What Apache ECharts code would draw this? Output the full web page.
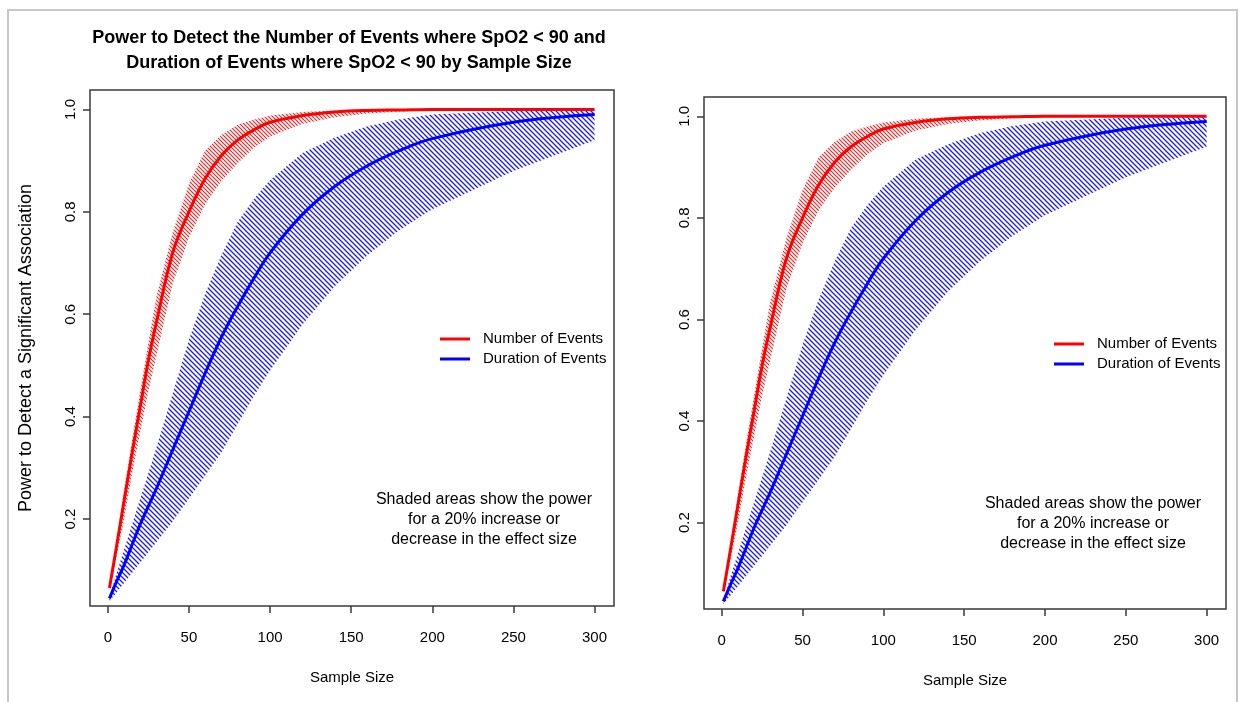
<!DOCTYPE html>
<html>
<head>
<meta charset="utf-8">
<title>Power to Detect by Sample Size</title>
<script src="https://cdn.jsdelivr.net/npm/echarts@6/dist/echarts.min.js"></script>
<style>
  html, body { margin: 0; padding: 0; background: #fff; }
  #chart { width: 1244px; height: 702px; }
</style>
</head>
<body>
<div id="chart"></div>
<script>
// sample sizes the curves were read at
var sampleSize = [1, 5, 10, 15, 20, 25, 30, 40, 50, 60, 70, 80, 90, 100, 120, 140, 160, 180, 200, 250, 300]

// Number of Events (red): power, and +/-20% effect size band
var eventsPower = [0.065, 0.14, 0.235, 0.33, 0.42, 0.51, 0.585, 0.72, 0.80, 0.865, 0.91, 0.94, 0.96, 0.975, 0.988, 0.995, 0.998, 0.999, 1, 1, 1]
var eventsUpper = [0.065, 0.15, 0.255, 0.355, 0.45, 0.545, 0.635, 0.76, 0.855, 0.92, 0.95, 0.97, 0.98, 0.988, 0.995, 0.998, 0.999, 1, 1, 1, 1]
var eventsLower = [0.06, 0.12, 0.2, 0.29, 0.37, 0.45, 0.52, 0.66, 0.75, 0.815, 0.86, 0.895, 0.925, 0.947, 0.972, 0.985, 0.992, 0.996, 0.998, 1, 1]

// Duration of Events (blue)
var durationPower = [0.045, 0.075, 0.11, 0.15, 0.19, 0.225, 0.26, 0.335, 0.41, 0.485, 0.555, 0.615, 0.67, 0.72, 0.795, 0.85, 0.89, 0.92, 0.943, 0.975, 0.99]
var durationUpper = [0.045, 0.09, 0.14, 0.19, 0.24, 0.29, 0.34, 0.445, 0.55, 0.64, 0.715, 0.78, 0.825, 0.862, 0.915, 0.945, 0.967, 0.981, 0.99, 0.997, 0.999]
var durationLower = [0.04, 0.055, 0.075, 0.095, 0.115, 0.135, 0.155, 0.195, 0.24, 0.285, 0.33, 0.385, 0.44, 0.49, 0.58, 0.655, 0.715, 0.765, 0.805, 0.88, 0.94]

var xTicks = [0, 50, 100, 150, 200, 250, 300]
var yTicks = [0.2, 0.4, 0.6, 0.8, 1.0]

var titleText = 'Power to Detect the Number of Events where SpO2 < 90 and\nDuration of Events where SpO2 < 90 by Sample Size'
var noteText = 'Shaded areas show the power\nfor a 20% increase or\ndecrease in the effect size'
var font = "'Liberation Sans', Arial, sans-serif"

// the two panels are the same plot drawn twice
var panels = [
  { left: 90, top: 90, width: 524, height: 516, yName: 'Power to Detect a Significant Association', legend: [435, 325], note: [484, 490] },
  { left: 704, top: 97, width: 522, height: 512, yName: '', legend: [1049, 330], note: [1093, 494] }
]

// diagonal hatching like R's polygon(density=...)
function hatch(color, step, width) {
  var c = document.createElement('canvas')
  c.width = step
  c.height = step
  var ctx = c.getContext('2d')
  ctx.strokeStyle = color
  ctx.lineWidth = width
  ctx.beginPath()
  ctx.moveTo(-1, -1)
  ctx.lineTo(step + 1, step + 1)
  ctx.moveTo(-step - 1, -1)
  ctx.lineTo(1, step + 1)
  ctx.moveTo(step - 1, -1)
  ctx.lineTo(2 * step + 1, step + 1)
  ctx.stroke()
  return c
}

function pairs(ys) {
  return sampleSize.map(function (n, i) { return [n, ys[i]] })
}

var redHatch = { image: hatch('#ff2020', 4, 1.2), repeat: 'repeat' }
var blueHatch = { image: hatch('#1a1aff', 5, 1.3), repeat: 'repeat' }

// shaded band between lower and upper, drawn as one polygon
function band(gi, key, lower, upper, pattern) {
  return {
    name: key + 'Band' + gi,
    type: 'custom',
    xAxisIndex: gi,
    yAxisIndex: gi,
    data: sampleSize.map(function (n, i) { return [n, lower[i], upper[i]] }),
    silent: true,
    clip: true,
    z: 1,
    renderItem: function (params, api) {
      if (params.dataIndexInside !== 0) return null
      var top = [], bottom = []
      for (var i = 0; i < sampleSize.length; i++) {
        top.push(api.coord([sampleSize[i], upper[i]]))
        bottom.push(api.coord([sampleSize[i], lower[i]]))
      }
      return {
        type: 'polygon',
        shape: { points: top.concat(bottom.reverse()) },
        style: { fill: pattern, stroke: null }
      }
    }
  }
}

function mainLine(gi, name, ys, color) {
  return {
    name: name,
    type: 'line',
    xAxisIndex: gi,
    yAxisIndex: gi,
    data: pairs(ys),
    symbol: 'none',
    smooth: 0.4,
    itemStyle: { color: color },
    lineStyle: { color: color, width: 3 },
    z: 3
  }
}

var grid = [], xAxis = [], yAxis = [], legend = [], series = [], graphic = []

panels.forEach(function (p, gi) {
  grid.push({
    left: p.left, top: p.top, width: p.width, height: p.height,
    show: true, borderColor: '#3a3a3a', borderWidth: 1.5,
    outerBoundsMode: 'none'
  })
  xAxis.push({
    type: 'value', gridIndex: gi, min: -11, max: 312,
    name: 'Sample Size', nameLocation: 'middle', nameGap: 64,
    nameTextStyle: { fontSize: 15, color: '#000', fontFamily: font },
    axisLine: { show: false, onZero: false },
    axisTick: { show: true, length: 7, customValues: xTicks, lineStyle: { color: '#3a3a3a', width: 1.5 } },
    axisLabel: { customValues: xTicks, fontSize: 15, color: '#000', fontFamily: font, margin: 24 },
    splitLine: { show: false }
  })
  yAxis.push({
    type: 'value', gridIndex: gi, min: 0.03, max: 1.038,
    name: p.yName, nameLocation: 'middle', nameRotate: 90, nameGap: 55,
    nameTextStyle: { fontSize: 18, color: '#000', fontFamily: font },
    axisLine: { show: false, onZero: false },
    axisTick: { show: true, length: 7, customValues: yTicks, lineStyle: { color: '#3a3a3a', width: 1.5 } },
    axisLabel: {
      customValues: yTicks, rotate: 90, fontSize: 15, color: '#000', fontFamily: font, margin: 12,
      formatter: function (v) { return v.toFixed(1) }
    },
    splitLine: { show: false }
  })
  legend.push({
    data: ['Number of Events', 'Duration of Events'],
    orient: 'vertical', left: p.legend[0], top: p.legend[1],
    icon: 'rect', itemWidth: 30, itemHeight: 3, itemGap: 2,
    selectedMode: false,
    textStyle: { fontSize: 15, color: '#000', fontFamily: font, lineHeight: 18, padding: [0, 0, 0, 8] }
  })
  series.push(
    band(gi, 'duration', durationLower, durationUpper, blueHatch),
    band(gi, 'events', eventsLower, eventsUpper, redHatch),
    mainLine(gi, 'Duration of Events', durationPower, '#0000ff'),
    mainLine(gi, 'Number of Events', eventsPower, '#ff0000')
  )
  graphic.push({
    type: 'text', x: p.note[0], y: p.note[1], silent: true,
    style: { text: noteText, fontSize: 16, fill: '#000', fontFamily: font, lineHeight: 20, align: 'center', verticalAlign: 'top' }
  })
})

// light frame round the whole figure
graphic.push({
  type: 'rect', silent: true,
  shape: { x: 8, y: 10, width: 1229, height: 720 },
  style: { fill: 'none', stroke: '#c8c8c8', lineWidth: 2 }
})

var chart = echarts.init(document.getElementById('chart'))
chart.setOption({
  animation: false,
  backgroundColor: '#fff',
  title: {
    text: titleText, left: 344, top: 21, textAlign: 'center',
    textStyle: { fontSize: 18, fontWeight: 'bold', color: '#000', lineHeight: 25, fontFamily: font }
  },
  grid: grid,
  xAxis: xAxis,
  yAxis: yAxis,
  legend: legend,
  series: series,
  graphic: graphic
})
</script>
</body>
</html>
